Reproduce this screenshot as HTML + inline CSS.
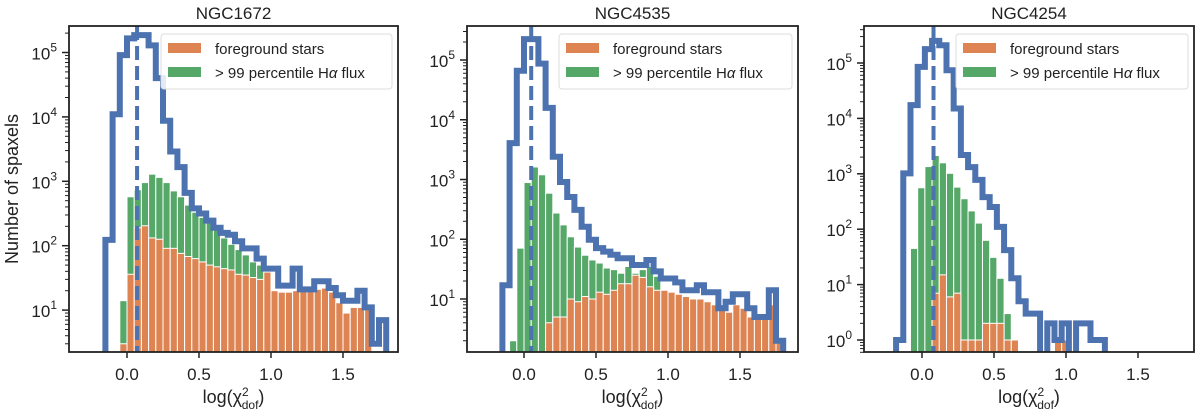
<!DOCTYPE html>
<html><head><meta charset="utf-8"><style>
html,body{margin:0;padding:0;background:#fff;width:1200px;height:416px;overflow:hidden}
svg{display:block;font-family:"Liberation Sans","DejaVu Sans",sans-serif}
</style></head><body>
<svg id="fig" width="1200" height="416" viewBox="0 0 1200 416" xmlns="http://www.w3.org/2000/svg"></svg>
<script>
// ---- data (counts per 0.05-wide bin) ----
const titles = ["NGC1672", "NGC4535", "NGC4254"];
const binStarts = [-0.15, -0.15, -0.18];
const binWidth = 0.05;
const medianLines = [0.07, 0.05, 0.08];
const allBlue1 = [123,11000,91000,166000,186000,186000,129000,40000,8700,2900,1660,660,380,316,245,190,158,148,117,91,91,63,44,44,24,24,44,21,21,28,28,22,17,14,14,20,11,3,7];
const green1 = [0,0,14,575,740,955,1290,1150,955,710,575,427,331,275,229,190,132,105,87,72,56,50,25];
const orange1 = [0,0,3,36,190,204,132,126,91,91,76,68,63,56,50,47,44,42,36,35,32,30,39,20,19,19,20,20,21,21,22,19,13,9,11,11,11,0,0];
const allBlue2 = [17,4070,66000,224000,224000,87000,15800,2400,910,510,310,162,98,71,62,55,48,48,37,37,45,29,22,22,19,14,14,17,13,13,7,9,12,12,7,5,5,14,2];
const green2 = [0,2,71,890,1620,1200,590,275,174,110,74,54,45,40,33,31,27,35,27,31,35,24];
const orange2 = [0,0,0,0,0,0,4,5,5,10,9,11,10,13,12,14,18,18,25,23,16,14,14,13,12,11,10,10,9,8,8,6,8,7,5,5,5,8,2];
const allBlue3 = [1,1020,17400,85000,178000,251000,209000,74000,15100,2190,1320,776,380,251,110,42,13,5,3,3,0,2,1,2,0,2,2,1,1];
const green3 = [0,0,45,560,1350,2140,1580,1020,575,355,214,129,63,31,13,3,1];
const orange3 = [0,0,0,0,0,7,15,6,7,1,1,1,2,2,2,1,1,0,0,0,0,0,1,1];
const xTicks = [0.0, 0.5, 1.0, 1.5];
const xTickLabels = ["0.0", "0.5", "1.0", "1.5"];
const yDecades1 = [1,2,3,4,5];
const yDecades2 = [1,2,3,4,5];
const yDecades3 = [0,1,2,3,4,5];

// ---- layout ----
const NS = "http://www.w3.org/2000/svg";
const svg = document.getElementById("fig");
const panels = [
  {left:69,  right:398, top:26, bottom:352, x0px:127, y5:52.5, dec:64.4, blue:allBlue1, green:green1, orange:orange1, dec_ticks:yDecades1},
  {left:467, right:798, top:26, bottom:352, x0px:524, y5:60,   dec:59.75, blue:allBlue2, green:green2, orange:orange2, dec_ticks:yDecades2},
  {left:864, right:1194,top:26, bottom:352, x0px:922, y5:63,   dec:55.4, blue:allBlue3, green:green3, orange:orange3, dec_ticks:yDecades3}
];
const PXU = 144;
function mk(tag, attrs, parent){const e=document.createElementNS(NS,tag);for(const k in attrs)e.setAttribute(k,attrs[k]);(parent||svg).appendChild(e);return e;}

panels.forEach((p,i)=>{
  const g = mk("g",{});
  
  
  const xs = v => p.x0px + v*PXU;
  const ys = c => c<=0 ? p.bottom+20 : p.y5 + (5-Math.log10(c))*p.dec;
  const clipId = "clip"+i;
  const cp = mk("clipPath",{id:clipId},g);
  mk("rect",{x:p.left,y:p.top,width:p.right-p.left,height:p.bottom-p.top},cp);
  const plot = mk("g",{"clip-path":"url(#"+clipId+")"},g);
  
  
  const b0 = binStarts[i];
  p.green.forEach((c,k)=>{
    if(c<=0) return;
    const x=xs(b0+k*binWidth), y=ys(c);
    const r=mk("rect",{x:x,y:y,width:binWidth*PXU,height:p.bottom+5-y,fill:"#55a868",stroke:"#fff","stroke-width":1},plot);
    
    
  });
  p.orange.forEach((c,k)=>{
    if(c<=0) return;
    const x=xs(b0+k*binWidth), y=ys(c);
    const r=mk("rect",{x:x,y:y,width:binWidth*PXU,height:p.bottom+5-y,fill:"#dd8452",stroke:"#fff","stroke-width":1},plot);
    
    
  });
  let d = "M"+xs(b0)+","+(p.bottom+20);
  p.blue.forEach((c,k)=>{
    const y=ys(c);
    d += " L"+xs(b0+k*binWidth)+","+y+" L"+xs(b0+(k+1)*binWidth)+","+y;
  });
  d += " L"+xs(b0+p.blue.length*binWidth)+","+(p.bottom+20);
  const step = mk("path",{d:d,fill:"none",stroke:"#4c72b0","stroke-width":6,"stroke-linejoin":"miter"},plot);
  
  
  const dl = mk("line",{x1:xs(medianLines[i]),x2:xs(medianLines[i]),y1:p.top,y2:p.bottom,stroke:"#4c72b0","stroke-width":4,"stroke-dasharray":"14,6"},plot);
  
  
  const fr = mk("rect",{x:p.left,y:p.top,width:p.right-p.left,height:p.bottom-p.top,fill:"none",stroke:"#222","stroke-width":1.8},g);
  
  
  xTicks.forEach((v,k)=>{
    const x=xs(v);
    mk("line",{x1:x,x2:x,y1:p.bottom,y2:p.bottom+6,stroke:"#222","stroke-width":1.5},g);
    const t=mk("text",{x:x,y:p.bottom+28,"font-size":17,"text-anchor":"middle",fill:"#222"},g);
    t.textContent=xTickLabels[k];
    
    
  });
  const lowDec = Math.floor(Math.log10(Math.pow(10,5-(p.bottom-p.y5)/p.dec)));
  for(let dcd=lowDec; dcd<=6; dcd++){
    for(let m=1;m<=9;m++){
      const c=m*Math.pow(10,dcd), y=ys(c);
      if(y<p.top-0.5||y>p.bottom+0.5) continue;
      mk("line",{x1:p.left-(m===1?7:4),x2:p.left,y1:y,y2:y,stroke:"#222","stroke-width":m===1?1.5:1},g);
    }
  }
  p.dec_ticks.forEach(e=>{
    const y=ys(Math.pow(10,e));
    const t=mk("text",{x:p.left-12,y:y+7,"font-size":17,"text-anchor":"end",fill:"#222"},g);
    
    
    const a=mk("tspan",{},t); a.textContent="10";
    const b=mk("tspan",{dy:-8,"font-size":12},t); b.textContent=String(e);
  });
  const tt=mk("text",{x:(p.left+p.right)/2,y:19,"font-size":17,"text-anchor":"middle",fill:"#222"},g);
  tt.textContent=titles[i];
  
  
  const xl=mk("text",{x:(p.left+p.right)/2,y:403,"font-size":18,"text-anchor":"middle",fill:"#222"},g);
  
  
  const s1=mk("tspan",{},xl); s1.textContent="log(χ";
  const s2=mk("tspan",{dy:-7,"font-size":12},xl); s2.textContent="2";
  const s3=mk("tspan",{dx:-7,dy:13,"font-size":12},xl); s3.textContent="dof";
  const s4=mk("tspan",{dy:-6},xl); s4.textContent=")";
  const lx=p.left+92;
  const lg=mk("g",{},g);
  
  
  mk("rect",{x:lx,y:34,width:p.right-6-lx,height:55,rx:3,fill:"#fff","fill-opacity":0.85,stroke:"#ddd","stroke-width":1},lg);
  const e1=mk("rect",{x:lx+7,y:43,width:33,height:10,fill:"#dd8452"},lg);
  
  
  const t1=mk("text",{x:lx+54,y:54,"font-size":15,fill:"#222"},lg); t1.textContent="foreground stars";
  
  
  const e2=mk("rect",{x:lx+7,y:67,width:33,height:10,fill:"#55a868"},lg);
  
  
  const t2=mk("text",{x:lx+54,y:78,"font-size":15,fill:"#222"},lg);
  
  
  const u1=mk("tspan",{},t2); u1.textContent="> 99 percentile H";
  const u2=mk("tspan",{"font-style":"italic"},t2); u2.textContent="α";
  const u3=mk("tspan",{},t2); u3.textContent=" flux";
});
const yl=mk("text",{x:0,y:0,"font-size":18,"text-anchor":"middle",fill:"#222",transform:"translate(18,189) rotate(-90)"});
yl.textContent="Number of spaxels";


</script>
</body></html>
